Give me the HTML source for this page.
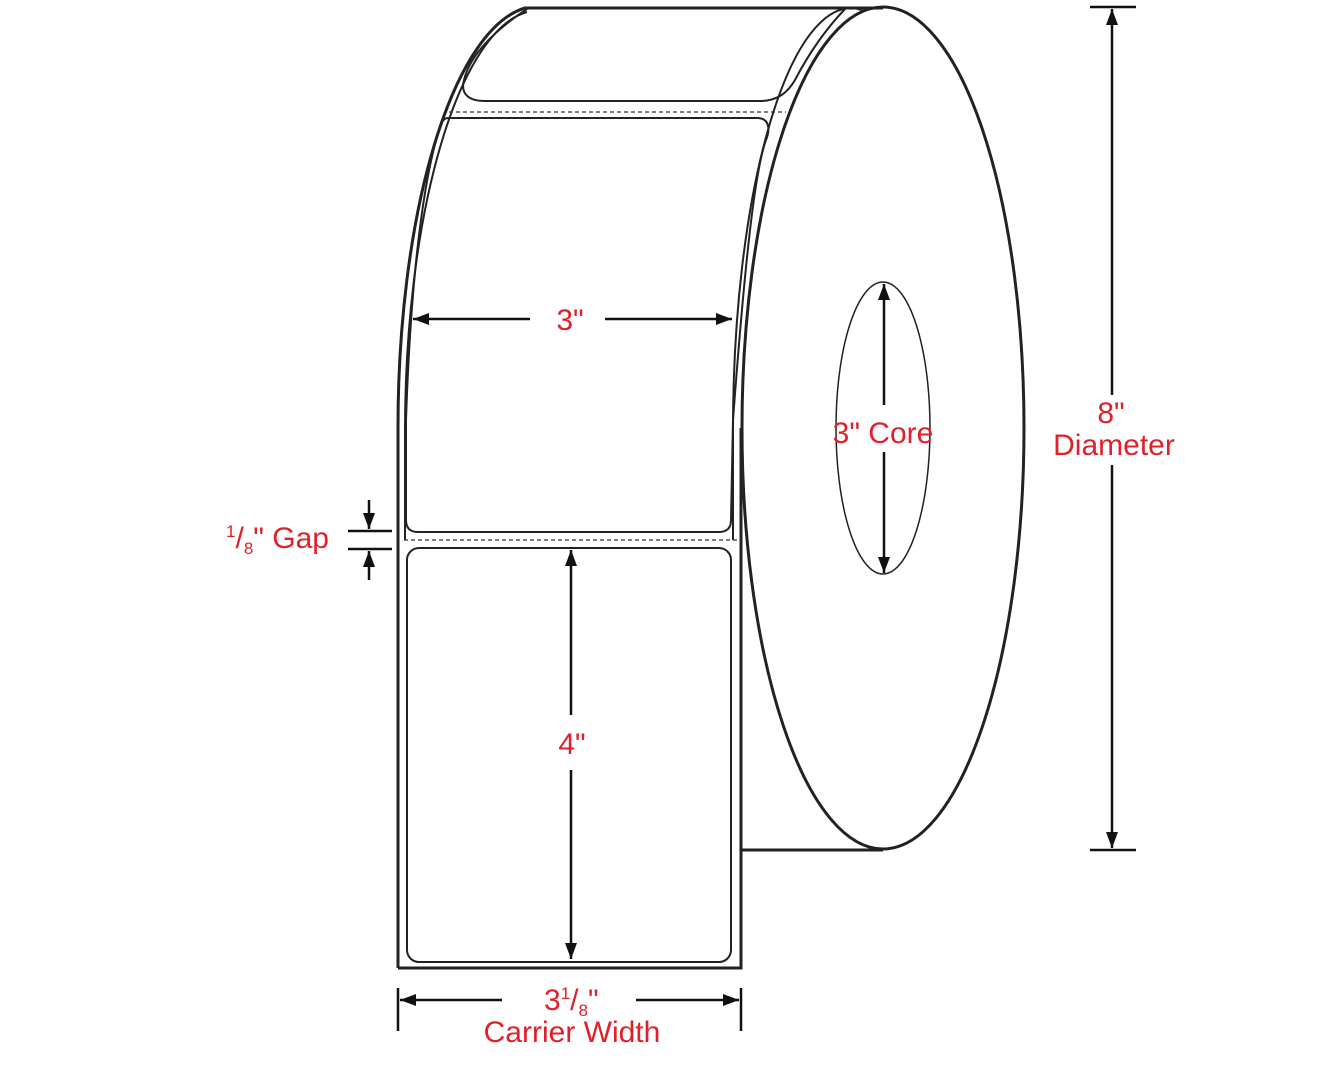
<!DOCTYPE html>
<html><head><meta charset="utf-8"><style>
html,body{margin:0;padding:0;background:#fff;}
svg{display:block;}
text{font-family:"Liberation Sans",sans-serif;fill:#e0202a;}
</style></head><body>
<svg width="1335" height="1065" viewBox="0 0 1335 1065" xmlns="http://www.w3.org/2000/svg">
<defs>
<marker id="a" viewBox="0 0 16 12" refX="16" refY="6" markerWidth="16" markerHeight="12" markerUnits="userSpaceOnUse" orient="auto"><path d="M0,0 L16,6 L0,12 Z" fill="#111"/></marker>
</defs>
<g fill="none" stroke="#222" stroke-width="3">
<path d="M398,968 L398,428 A141,421 0 0 1 525,8 L883,8"/>
<path d="M398,968 L741,968 L741,428"/>
<path d="M741,850 L883,850"/>
<ellipse cx="883" cy="428" rx="141" ry="421"/>
</g>
<g fill="none" stroke="#222" stroke-width="2">
<path d="M405,540 L405,428 A134,421 0 0 1 527,12"/>
<path d="M733,540 L733,430 A118,421 0 0 1 862,10"/>
<path d="M527,9 C495,30 470,55 464,80 C460,95 470,101 485,101 L760,101 C778,101 788,92 795,80 C808,55 825,30 845,9"/>
<path d="M448,118 L757,118 C770,118 770,130 766,140 C755,170 745,260 733,420 L731,520 Q731,532 719,532 L418,532 Q406,532 406,520 L406,420 C410,300 420,200 436,140 C440,125 442,118 448,118 Z"/>
<rect x="407" y="548" width="324" height="414" rx="12" ry="12"/>
</g>
<g stroke="#333" stroke-width="1.2" stroke-dasharray="4,3">
<line x1="449" y1="112" x2="786" y2="112"/>
<line x1="404" y1="540" x2="740" y2="540"/>
</g>
<ellipse cx="883" cy="428" rx="47" ry="146" fill="none" stroke="#222" stroke-width="1.5"/>
<g stroke="#111" stroke-width="2.5" fill="none">
<line x1="530" y1="319" x2="413" y2="319" marker-end="url(#a)"/>
<line x1="605" y1="319" x2="732" y2="319" marker-end="url(#a)"/>
<line x1="571" y1="715" x2="571" y2="550" marker-end="url(#a)"/>
<line x1="571" y1="770" x2="571" y2="959" marker-end="url(#a)"/>
<line x1="884" y1="405" x2="884" y2="284" marker-end="url(#a)"/>
<line x1="884" y1="452" x2="884" y2="573" marker-end="url(#a)"/>
<line x1="1112" y1="395" x2="1112" y2="9" marker-end="url(#a)"/>
<line x1="1112" y1="465" x2="1112" y2="848" marker-end="url(#a)"/>
<line x1="1090" y1="7" x2="1136" y2="7"/>
<line x1="1090" y1="850" x2="1136" y2="850"/>
<line x1="348" y1="531" x2="392" y2="531"/>
<line x1="348" y1="549" x2="392" y2="549"/>
<line x1="369" y1="500" x2="369" y2="529" marker-end="url(#a)"/>
<line x1="369" y1="580" x2="369" y2="551" marker-end="url(#a)"/>
<line x1="398" y1="988" x2="398" y2="1031"/>
<line x1="741" y1="988" x2="741" y2="1031"/>
<line x1="502" y1="1000" x2="400" y2="1000" marker-end="url(#a)"/>
<line x1="636" y1="1000" x2="739" y2="1000" marker-end="url(#a)"/>
</g>
<g font-size="30" text-anchor="middle">
<text x="570" y="330">3"</text>
<text x="572" y="754">4"</text>
<text x="883" y="443">3" Core</text>
<text x="1111" y="423">8"</text>
<text x="1114" y="455">Diameter</text>
<text x="572" y="1042">Carrier Width</text>
</g>
<text x="544" y="1010" font-size="30">3<tspan font-size="17" dy="-11">1</tspan><tspan dy="11">/</tspan><tspan font-size="17" dy="6">8</tspan><tspan dy="-6">"</tspan></text>
<text x="226" y="548" font-size="30"><tspan font-size="17" dy="-11">1</tspan><tspan dy="11">/</tspan><tspan font-size="17" dy="6">8</tspan><tspan dy="-6">" Gap</tspan></text>
</svg>
</body></html>
